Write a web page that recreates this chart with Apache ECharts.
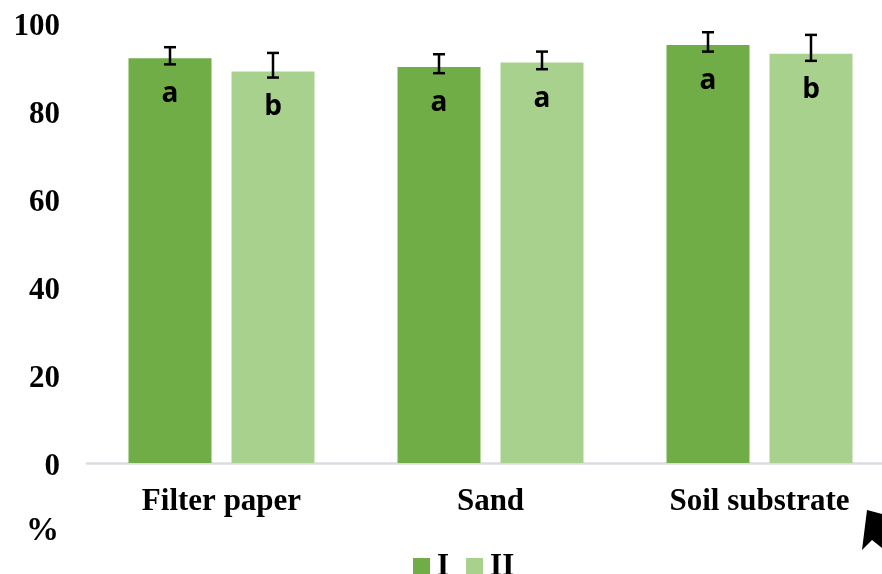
<!DOCTYPE html>
<html>
<head>
<meta charset="utf-8">
<script src="https://cdn.jsdelivr.net/npm/echarts@6/dist/echarts.min.js"></script>
<style>
  html, body { margin: 0; padding: 0; background: #fff; }
  #chart { width: 882px; height: 574px; }
</style>
</head>
<body>
<div id="chart"></div>
<script>
// data
const categories = ['Filter paper', 'Sand', 'Soil substrate']
const seriesNames = ['I', 'II']
const valuesI = [92, 90, 95]
const valuesII = [89, 91, 93]
const errLowI = [90.6, 88.6, 93.5]
const errHighI = [94.5, 92.9, 97.9]
const errLowII = [87.6, 89.5, 91.4]
const errHighII = [93.2, 93.5, 97.3]
const lettersI = ['a', 'a', 'a']
const lettersII = ['b', 'a', 'b']

const serif = '"Liberation Serif", "Times New Roman", serif'
const colors = ['#70AD47', '#A9D18E']
const barWidth = 83
const gapPx = 20

const barLabel = (letters) => ({
  show: true,
  position: 'insideTop',
  distance: 22,
  formatter: (p) => letters[p.dataIndex],
  color: '#000',
  fontFamily: '"Open Sans", sans-serif',
  fontWeight: 'bold',
  fontSize: 28
})

// error bars, shifted to sit on the matching bar
const errorSeries = (low, high, side) => ({
  type: 'custom',
  silent: true,
  z: 5,
  data: categories.map((c, i) => [i, low[i], high[i]]),
  renderItem: (params, api) => {
    const off = side * (barWidth + gapPx) / 2
    const lo = api.coord([api.value(0), api.value(1)])
    const hi = api.coord([api.value(0), api.value(2)])
    const x = lo[0] + off
    const cap = 6
    const style = {stroke: '#000', lineWidth: 2.5}
    return {
      type: 'group',
      children: [
        {type: 'line', shape: {x1: x, y1: lo[1], x2: x, y2: hi[1]}, style},
        {type: 'line', shape: {x1: x - cap, y1: lo[1], x2: x + cap, y2: lo[1]}, style},
        {type: 'line', shape: {x1: x - cap, y1: hi[1], x2: x + cap, y2: hi[1]}, style}
      ]
    }
  }
})

const chart = echarts.init(document.getElementById('chart'))
chart.setOption({
  animation: false,
  color: colors,
  grid: {left: 87, top: 23, width: 807, bottom: 111, containLabel: false, outerBoundsMode: 'none'},
  legend: {
    data: seriesNames,
    top: 546,
    left: 408,
    icon: 'rect',
    itemWidth: 17,
    itemHeight: 17,
    itemGap: 17,
    textStyle: {fontFamily: serif, fontWeight: 'bold', fontSize: 31, color: '#000', padding: [0, 0, 0, 2]}
  },
  graphic: [
    {
      type: 'text',
      left: 26,
      top: 515,
      style: {text: '%', fontFamily: serif, fontWeight: 'bold', fontSize: 33, fill: '#000'}
    },
    {
      type: 'polygon',
      shape: {points: [[867, 510], [882, 514], [882, 548], [872, 540], [862, 550]]},
      style: {fill: '#000'}
    }
  ],
  xAxis: {
    type: 'category',
    data: categories,
    axisTick: {show: false},
    axisLine: {lineStyle: {color: '#D9DDE2', width: 2.5}},
    axisLabel: {
      margin: 23,
      color: '#000',
      fontFamily: serif,
      fontWeight: 'bold',
      fontSize: 31
    }
  },
  yAxis: {
    type: 'value',
    min: 0,
    max: 100,
    interval: 20,
    splitLine: {show: false},
    axisLine: {show: false},
    axisTick: {show: false},
    axisLabel: {
      margin: 27,
      formatter: '{v|{value}}',
      rich: {
        v: {
          color: '#000',
          fontFamily: serif,
          fontWeight: 'bold',
          fontSize: 31,
          padding: [7, 0, 0, 0]
        }
      }
    }
  },
  series: [
    {
      name: seriesNames[0],
      type: 'bar',
      data: valuesI,
      barWidth: barWidth,
      barGap: (gapPx / barWidth * 100) + '%',
      label: barLabel(lettersI)
    },
    {
      name: seriesNames[1],
      type: 'bar',
      data: valuesII,
      barWidth: barWidth,
      label: barLabel(lettersII)
    },
    errorSeries(errLowI, errHighI, -1),
    errorSeries(errLowII, errHighII, 1)
  ]
})
</script>
</body>
</html>
